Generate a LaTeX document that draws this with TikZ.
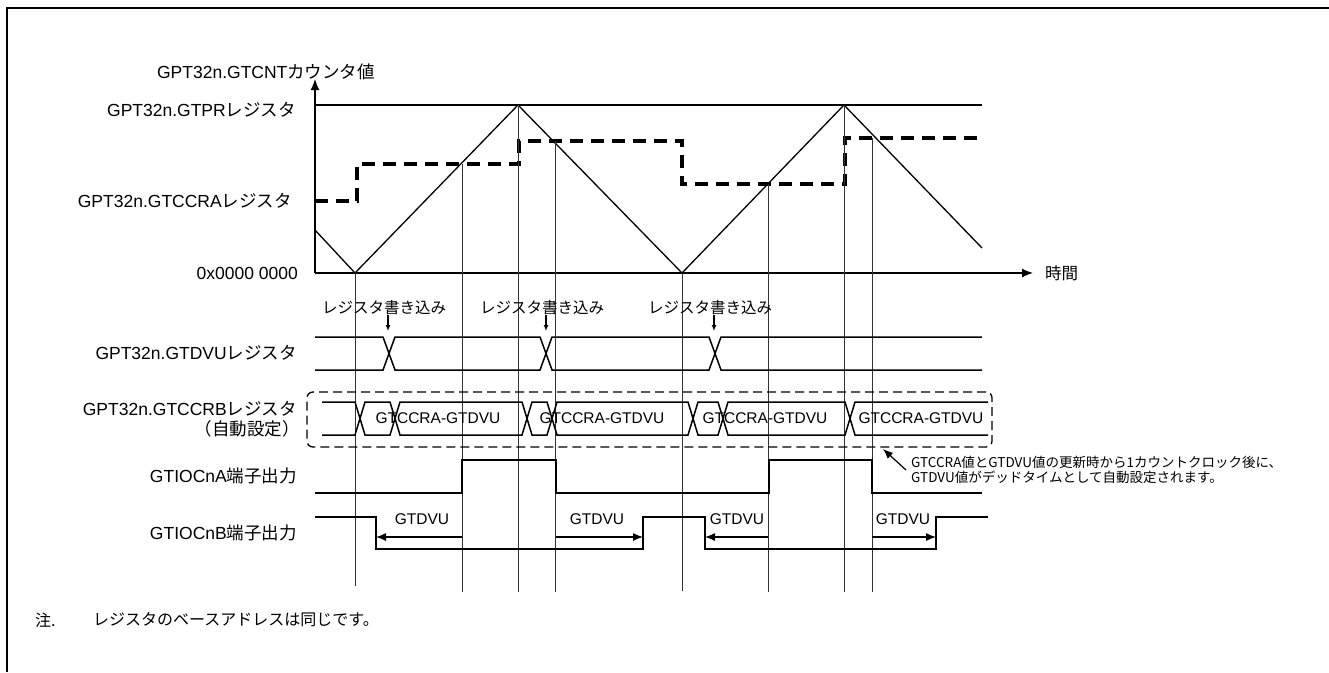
\documentclass[tikz,border=0pt]{standalone}
\usepackage{fontspec}
\setmainfont{Liberation Sans}
\newfontfamily\jp{Noto Sans CJK JP}
\usetikzlibrary{arrows.meta, positioning, calc}
\tikzset{
    % row names on the left, right-aligned against the axis
    rowlbl/.style={anchor=east, inner sep=0pt, font=\fontsize{17.5}{20}\selectfont},
    % texts written on the waveforms
    siglbl/.style={inner sep=0pt, font=\fontsize{15.5}{18}\selectfont},
    % counter ramp and limit lines
    ramp/.style={line width=1.3pt},
    % compare register level, thick dashed
    cmpline/.style={line width=3.3pt, dash pattern=on 13pt off 8pt},
    % timing guide lines
    guide/.style={line width=0.8pt, black!80},
    % register contents drawn as a bus
    bus/.style={line width=1.5pt, line join=miter},
    % output pin levels
    pin/.style={line width=2pt},
    % directed edges
    edge/.style={-{Latex[length=10pt, width=8pt]}, line width=1.2pt},
    % short write markers
    tick/.style={-{Latex[length=6pt, width=5pt]}, line width=1.2pt},
}
\newcommand{\jtxt}[1]{{\jp #1}}

\begin{document}
\begin{tikzpicture}[x=1pt, y=-1pt]
    \useasboundingbox (0,0) rectangle (1329,672);

    % --- frame ---
    \draw[line width=1.5pt] (7,672) -- (7,8) -- (1329,8);

    % --- axes ---
    \coordinate (O)    at (315,273);
    \coordinate (ytip) at (315,79);
    \coordinate (xtip) at (1033,273);
    \draw[edge, -{Latex[length=11pt, width=9pt]}] (O) -- (ytip);
    \draw[edge, -{Latex[length=11pt, width=9pt]}] (O) -- (xtip);
    \node[rowlbl, anchor=center] (yname) at (266,72) {GPT32n.GTCNT\jtxt{カウンタ値}};
    \node[anchor=west, inner sep=0pt, font=\jp\fontsize{16.5}{18}\selectfont] (xname) at (1045,273) {時間};

    % --- left labels of the counter part ---
    \node[rowlbl] (lpr)   at (296,110) {GPT32n.GTPR\jtxt{レジスタ}};
    \node[rowlbl] (lccra) at (292,201) {GPT32n.GTCCRA\jtxt{レジスタ}};
    \node[rowlbl] (lzero) at (298,273) {0x0000 0000};

    % period line, ramp and compare value
    \draw[ramp] (315,105) -- (982,105);
    \draw[ramp] (315,230) -- (355,273) -- (518,105) -- (682,273) -- (844,105) -- (982,248);
    \draw[cmpline] (315,201) -- (357,201) -- (357,164) -- (519,164) -- (519,141)
        -- (682,141) -- (682,184) -- (845,184) -- (845,138) -- (982,138);

    % guide lines down through all rows
    \foreach \x/\y/\e in {355/273/586, 462/164/592, 518/105/592, 555/141/592,
                          682/273/591, 768/184/592, 844/105/592, 872/138/592}{
        \draw[guide] (\x,\y) -- (\x,\e);
    }

    % --- register writes ---
    \foreach \x/\n in {388/1, 546/2, 714/3}{
        \node[siglbl] (wr\n) at (\x-4,308) {\jtxt{レジスタ書き込み}};
        \coordinate (wt\n) at (\x,331);
        \draw[tick] (wr\n.south -| wt\n) -- (wt\n);
    }

    % --- GTDVU register ---
    \node[rowlbl] (ldvu) at (297,353) {GPT32n.GTDVU\jtxt{レジスタ}};
    \draw[bus] (315,337) -- (383,337) -- (395,370) -- (540,370) -- (552,337)
        -- (709,337) -- (721,370) -- (982,370);
    \draw[bus] (315,370) -- (383,370) -- (395,337) -- (540,337) -- (552,370)
        -- (709,370) -- (721,337) -- (982,337);

    % --- GTCCRB register (set automatically) ---
    \node[rowlbl] (lccrb) at (297,409) {GPT32n.GTCCRB\jtxt{レジスタ}};
    \node[rowlbl] (lauto) at (300,429) {\jtxt{（自動設定）}};
    \node[draw, dashed, line width=1.3pt, dash pattern=on 9pt off 5pt, rounded corners=6pt,
          minimum width=685pt, minimum height=55pt, inner sep=0pt] (rbbox) at (649.5,419.5) {};
    \draw[bus] (322,402) -- (355,402) -- (365,435) -- (390,435) -- (400,402) -- (522,402)
        -- (532,435) -- (547,435) -- (557,402) -- (688,402) -- (698,435) -- (718,435)
        -- (728,402) -- (845,402) -- (855,435) -- (988,435);
    \draw[bus] (322,435) -- (355,435) -- (365,402) -- (390,402) -- (400,435) -- (522,435)
        -- (532,402) -- (547,402) -- (557,435) -- (688,435) -- (698,402) -- (718,402)
        -- (728,435) -- (845,435) -- (855,402) -- (988,402);
    \foreach \x/\n in {438/1, 602/2, 765/3, 921/4}{
        \node[siglbl] (rb\n) at (\x,418) {GTCCRA-GTDVU};
    }

    % annotation on the automatic setting
    \node[anchor=west, align=left, inner sep=0pt, font=\jp\fontsize{13.5}{15.5}\selectfont] (annot) at (911,470)
        {GTCCRA値とGTDVU値の更新時から1カウントクロック後に、\\GTDVU値がデッドタイムとして自動設定されます。};
    \coordinate (atip) at (883,449);
    \draw[edge] ([xshift=-5pt]annot.west) -- (atip);

    % --- output pins ---
    \node[rowlbl] (lpa) at (297,476) {GTIOCnA\jtxt{端子出力}};
    \node[rowlbl] (lpb) at (297,533) {GTIOCnB\jtxt{端子出力}};
    \draw[pin] (315,493) -- (462,493) -- (462,460) -- (556,460) -- (556,493)
        -- (769,493) -- (769,460) -- (872,460) -- (872,493) -- (982,493);
    \draw[pin] (315,517) -- (376,517) -- (376,549) -- (643,549) -- (643,517)
        -- (705,517) -- (705,549) -- (936,549) -- (936,517) -- (988,517);

    % dead time arrows
    \foreach \a/\b/\c/\n in {462/376/422/1, 556/643/597/2, 768/705/737/3, 872/936/903/4}{
        \coordinate (da\n) at (\a,537);
        \coordinate (db\n) at (\b,537);
        \draw[edge] (da\n) -- (db\n);
        \node[siglbl] (dv\n) at (\c,519) {GTDVU};
    }

    % --- note ---
    \node[anchor=west, inner sep=0pt, font=\jp\fontsize{16}{18}\selectfont] (nmark) at (35,620) {注.};
    \node[anchor=west, inner sep=0pt, font=\jp\fontsize{16}{18}\selectfont] (ntext) at (93,620)
        {レジスタのベースアドレスは同じです。};

\end{tikzpicture}
\end{document}
